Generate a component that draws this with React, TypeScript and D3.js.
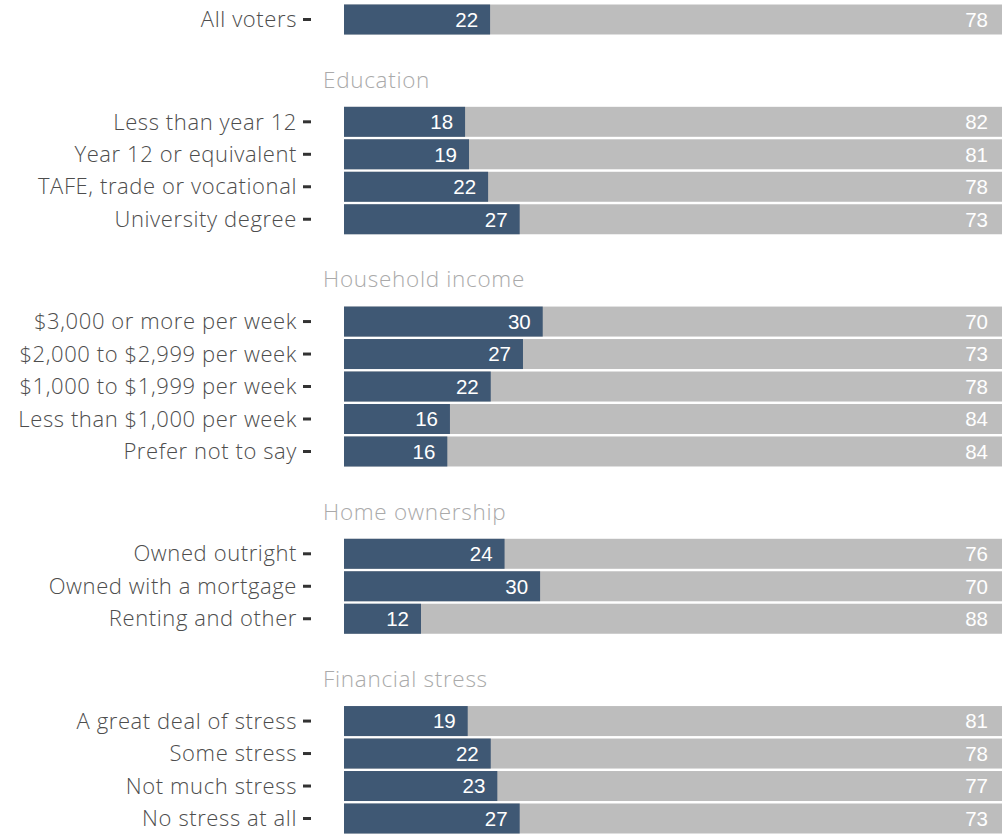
import React from "react";
import * as d3 from "d3";

const groupNames = ["", "Education", "Household income", "Home ownership", "Financial stress"];

const categories = [
  ["All voters"],
  ["Less than year 12", "Year 12 or equivalent", "TAFE, trade or vocational", "University degree"],
  [
    "$3,000 or more per week",
    "$2,000 to $2,999 per week",
    "$1,000 to $1,999 per week",
    "Less than $1,000 per week",
    "Prefer not to say",
  ],
  ["Owned outright", "Owned with a mortgage", "Renting and other"],
  ["A great deal of stress", "Some stress", "Not much stress", "No stress at all"],
];

// share in dark bar (percent); rest is grey
const values = [
  [22.2],
  [18.4, 19.0, 21.9, 26.7],
  [30.2, 27.2, 22.3, 16.1, 15.7],
  [24.4, 29.8, 11.7],
  [18.8, 22.3, 23.3, 26.7],
];

const W = 1003;
const H = 835;
const dark = "#3f5874";
const grey = "#bdbdbd";

interface Row {
  label: string;
  value: number;
  group: number;
  slot: number;
}

const App: React.FC = () => {
  React.useEffect(() => {
    document.body.style.margin = "0";
  }, []);

  const rows: Row[] = [];
  let slot = 0;
  categories.forEach((cats, gi) => {
    if (gi > 0) slot += 2.15; // space for group heading
    cats.forEach((c, i) => {
      rows.push({ label: c, value: values[gi][i], group: gi, slot });
      slot += 1;
    });
  });
  const lastSlot = rows[rows.length - 1].slot;

  const y = d3.scaleLinear().domain([0, lastSlot]).range([19.5, 818.5]);
  const x = d3.scaleLinear().domain([0, 100]).range([344, 1002]);
  const barH = 30;

  const labelFont = "'Open Sans', 'Noto Sans', sans-serif";

  return (
    <svg width={W} height={H} style={{ display: "block" }}>
      <rect width={W} height={H} fill="#fff" />
      {groupNames.map((g, gi) => {
        if (!g) return null;
        const first = rows.find(r => r.group === gi)!;
        return (
          <text
            key={g}
            x={323}
            y={y(first.slot) - 42}
            dy="0.35em"
            fill="#aaaaaa"
            fontFamily={labelFont}
            fontWeight={300}
            fontSize={22.5}
            letterSpacing={0.7}
          >
            {g}
          </text>
        );
      })}
      {rows.map(r => {
        const cy = y(r.slot);
        return (
          <g key={r.label}>
            <rect x={x(0)} y={cy - barH / 2} width={x(100) - x(0)} height={barH} fill={grey} />
            <rect x={x(0)} y={cy - barH / 2} width={x(r.value) - x(0)} height={barH} fill={dark} />
            <text
              x={x(r.value) - 12}
              y={cy}
              dy="0.36em"
              textAnchor="end"
              fill="#fff"
              fontFamily="'Liberation Sans', Arial, sans-serif"
              fontSize={20.5}
            >
              {Math.round(r.value)}
            </text>
            <text
              x={x(100) - 14}
              y={cy}
              dy="0.36em"
              textAnchor="end"
              fill="#fff"
              fontFamily="'Liberation Sans', Arial, sans-serif"
              fontSize={20.5}
            >
              {100 - Math.round(r.value)}
            </text>
            <line x1={303} x2={311} y1={cy} y2={cy} stroke="#333" strokeWidth={3} />
            <text
              x={297}
              y={cy}
              dy="0.35em"
              textAnchor="end"
              fill="#4d4d4d"
              fontFamily={labelFont}
              fontWeight={300}
              fontSize={22}
              letterSpacing={0.6}
            >
              {r.label}
            </text>
          </g>
        );
      })}
    </svg>
  );
};

export default App;
